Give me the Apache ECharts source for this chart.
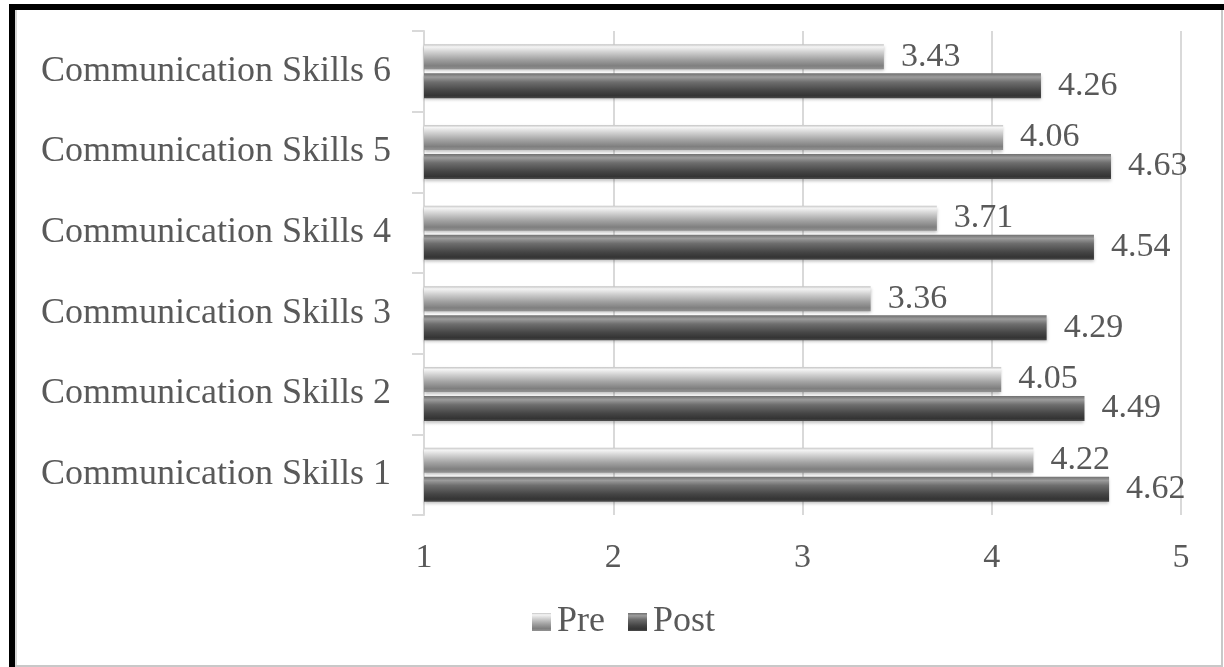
<!DOCTYPE html>
<html>
<head>
<meta charset="utf-8">
<script src="https://cdn.jsdelivr.net/npm/echarts@6/dist/echarts.min.js"></script>
<style>
  html, body { margin: 0; padding: 0; background: #fff; }
  #chart { width: 1224px; height: 667px; }
</style>
</head>
<body>
<div id="chart"></div>
<script>
// Category names, bottom to top
const categories = [
  'Communication Skills 1',
  'Communication Skills 2',
  'Communication Skills 3',
  'Communication Skills 4',
  'Communication Skills 5',
  'Communication Skills 6'
];
// Mean scores before and after
const preValues = [4.22, 4.05, 3.36, 3.71, 4.06, 3.43];
const postValues = [4.62, 4.49, 4.29, 4.54, 4.63, 4.26];
const seriesNames = ['Pre', 'Post'];
const xTicks = [1, 2, 3, 4, 5];

const FONT = "'Liberation Serif', 'Times New Roman', serif";
const TEXT = '#595959';
const GRID = '#d9d9d9';

// Shaded fills giving each bar a rounded, raised look
const preFill = new echarts.graphic.LinearGradient(0, 0, 0, 1, [
  { offset: 0, color: '#c4c4c4' },
  { offset: 0.1, color: '#f4f4f4' },
  { offset: 0.3, color: '#d2d2d2' },
  { offset: 0.6, color: '#a2a2a2' },
  { offset: 0.86, color: '#7f7f7f' },
  { offset: 1, color: '#929292' }
]);
const postFill = new echarts.graphic.LinearGradient(0, 0, 0, 1, [
  { offset: 0, color: '#707070' },
  { offset: 0.15, color: '#9c9c9c' },
  { offset: 0.35, color: '#6e6e6e' },
  { offset: 0.7, color: '#454545' },
  { offset: 0.9, color: '#343434' },
  { offset: 1, color: '#4c4c4c' }
]);

const labelStyle = {
  show: true,
  position: 'right',
  distance: 17,
  fontFamily: FONT,
  fontSize: 34,
  color: TEXT,
  formatter: p => p.value.toFixed(2)
};

const chart = echarts.init(document.getElementById('chart'), null, { renderer: 'canvas' });

chart.setOption({
  backgroundColor: '#ffffff',
  animation: false,
  textStyle: { fontFamily: FONT },
  grid: { left: 424, right: 43, top: 31, bottom: 152, containLabel: false },
  legend: {
    data: seriesNames,
    top: 599,
    left: 527,
    icon: 'rect',
    itemWidth: 19,
    itemHeight: 18,
    itemGap: 23,
    textStyle: { fontFamily: FONT, fontSize: 36, color: TEXT, padding: [0, 0, 0, 1] }
  },
  xAxis: {
    type: 'value',
    min: xTicks[0],
    max: xTicks[xTicks.length - 1],
    interval: 1,
    axisLine: { show: false },
    axisTick: { show: false },
    splitLine: { show: true, lineStyle: { color: GRID, width: 2 } },
    axisLabel: {
      margin: 26,
      fontFamily: FONT,
      fontSize: 34,
      color: TEXT,
      formatter: v => (xTicks.indexOf(v) >= 0 ? String(v) : '')
    }
  },
  yAxis: {
    type: 'category',
    data: categories,
    axisLine: { show: true, lineStyle: { color: GRID, width: 2 } },
    axisTick: { show: true, length: 12, lineStyle: { color: GRID, width: 2 } },
    axisLabel: {
      margin: 33,
      fontFamily: FONT,
      fontSize: 36,
      color: TEXT
    }
  },
  series: [
    {
      name: seriesNames[0],
      type: 'bar',
      data: preValues,
      barWidth: 25,
      barGap: '16%',
      itemStyle: {
        color: preFill,
        shadowColor: 'rgba(0,0,0,0.25)',
        shadowBlur: 3,
        shadowOffsetY: 2
      },
      label: labelStyle
    },
    {
      name: seriesNames[1],
      type: 'bar',
      data: postValues,
      barWidth: 25,
      barGap: '16%',
      itemStyle: {
        color: postFill,
        shadowColor: 'rgba(0,0,0,0.25)',
        shadowBlur: 3,
        shadowOffsetY: 2
      },
      label: labelStyle
    }
  ],
  graphic: [
    // Frame: heavy black left and top edges, light grey right and bottom edges
    { type: 'rect', shape: { x: 9, y: 4, width: 6, height: 663 }, style: { fill: '#000' }, z: 100 },
    { type: 'rect', shape: { x: 9, y: 4, width: 1215, height: 6 }, style: { fill: '#000' }, z: 100 },
    { type: 'rect', shape: { x: 15, y: 10, width: 2, height: 657 }, style: { fill: '#d6d6d6' }, z: 100 },
    { type: 'rect', shape: { x: 1221, y: 10, width: 2, height: 657 }, style: { fill: '#c8c8c8' }, z: 100 },
    { type: 'rect', shape: { x: 15, y: 665, width: 1208, height: 2 }, style: { fill: '#c8c8c8' }, z: 100 }
  ]
});
</script>
</body>
</html>
